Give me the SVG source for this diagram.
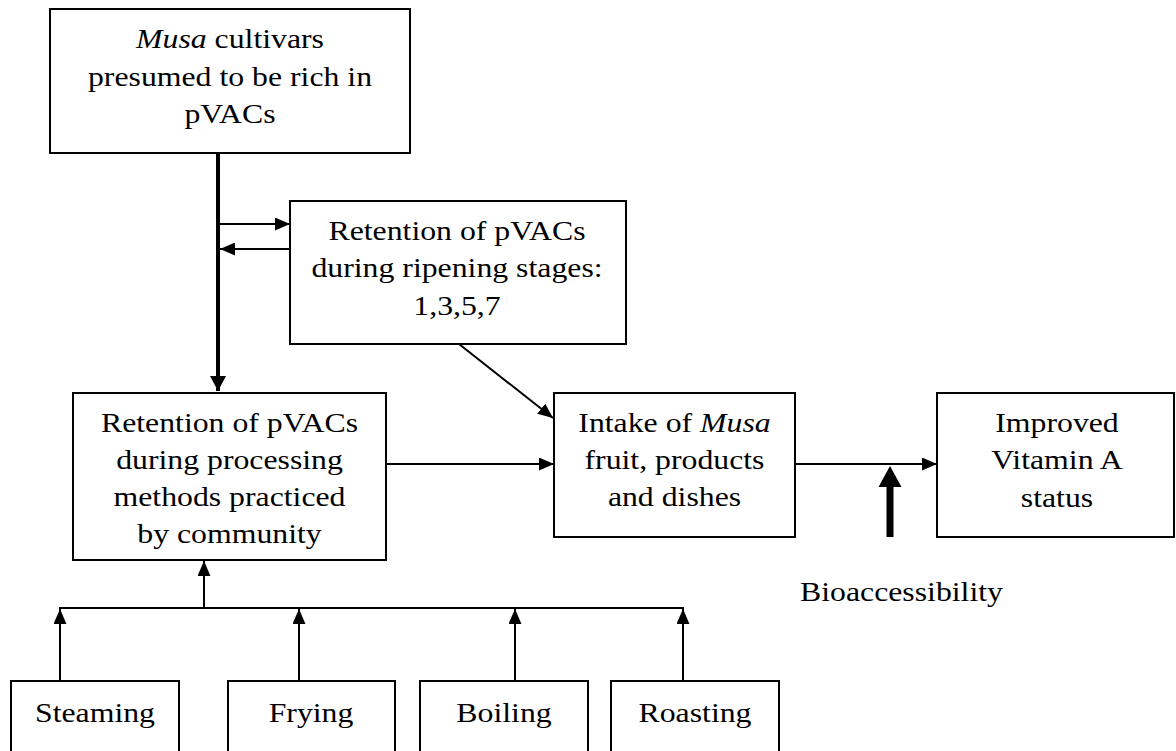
<svg xmlns="http://www.w3.org/2000/svg" width="1176" height="751" viewBox="0 0 1176 751">
<style>
.box{fill:#fff;stroke:#000;stroke-width:2}
.t{font-family:"Liberation Serif","Times New Roman",serif;font-size:28px;fill:#000;text-anchor:middle}
.i{font-style:italic}
.ln{fill:none;stroke:#000;stroke-width:2}
.thick{fill:none;stroke:#000;stroke-width:4}
</style>
<defs>
<marker id="ah" markerUnits="userSpaceOnUse" markerWidth="15" markerHeight="13" refX="15" refY="6.5" orient="auto">
<path d="M0,0 L15,6.5 L0,13 z" fill="#000"/>
</marker>
<marker id="ahb" markerUnits="userSpaceOnUse" markerWidth="15" markerHeight="16" refX="15" refY="8" orient="auto">
<path d="M0,0 L15,8 L0,16 z" fill="#000"/>
</marker>
</defs>
<rect width="1176" height="751" fill="#fff"/>
<g id="connectors">
<line class="thick" x1="218" y1="153" x2="218" y2="391" marker-end="url(#ahb)"/>
<line class="ln" x1="218" y1="224" x2="290" y2="224" marker-end="url(#ah)"/>
<line class="ln" x1="290" y1="249" x2="220" y2="249" marker-end="url(#ah)"/>
<line class="ln" x1="459" y1="344" x2="553" y2="418" marker-end="url(#ah)"/>
<line class="ln" x1="386" y1="464" x2="554" y2="464" marker-end="url(#ah)"/>
<line class="ln" x1="795" y1="464" x2="937" y2="464" marker-end="url(#ah)"/>
<polygon points="886.5,537 893.5,537 893.5,487 901.5,487 890,466 878.5,487 886.5,487" fill="#000"/>
<line class="ln" x1="204" y1="608" x2="204" y2="561" marker-end="url(#ah)"/>
<line class="ln" x1="59" y1="608" x2="684" y2="608"/>
<line class="ln" x1="60" y1="681" x2="60" y2="609" marker-end="url(#ah)"/>
<line class="ln" x1="299" y1="681" x2="299" y2="609" marker-end="url(#ah)"/>
<line class="ln" x1="515" y1="681" x2="515" y2="609" marker-end="url(#ah)"/>
<line class="ln" x1="683" y1="681" x2="683" y2="609" marker-end="url(#ah)"/>
</g>
<g id="musa-cultivars">
<rect class="box" x="50" y="9" width="360" height="144"/>
<text class="t" transform="translate(230 0) scale(1.135 1)" y="48"><tspan class="i">Musa</tspan> cultivars</text>
<text class="t" transform="translate(230 0) scale(1.135 1)" y="86">presumed to be rich in</text>
<text class="t" transform="translate(230 0) scale(1.135 1)" y="123">pVACs</text>
</g>
<g id="ripening">
<rect class="box" x="290" y="201" width="336" height="143"/>
<text class="t" transform="translate(457 0) scale(1.135 1)" y="240">Retention of pVACs</text>
<text class="t" transform="translate(457 0) scale(1.135 1)" y="277">during ripening stages:</text>
<text class="t" transform="translate(457 0) scale(1.135 1)" y="315">1,3,5,7</text>
</g>
<g id="processing">
<rect class="box" x="73" y="393" width="313" height="167"/>
<text class="t" transform="translate(229.5 0) scale(1.135 1)" y="432">Retention of pVACs</text>
<text class="t" transform="translate(229.5 0) scale(1.135 1)" y="469">during processing</text>
<text class="t" transform="translate(229.5 0) scale(1.135 1)" y="506">methods practiced</text>
<text class="t" transform="translate(229.5 0) scale(1.135 1)" y="543">by community</text>
</g>
<g id="intake">
<rect class="box" x="554" y="393" width="241" height="144"/>
<text class="t" transform="translate(674.5 0) scale(1.135 1)" y="432">Intake of <tspan class="i">Musa</tspan></text>
<text class="t" transform="translate(674.5 0) scale(1.135 1)" y="469">fruit, products</text>
<text class="t" transform="translate(674.5 0) scale(1.135 1)" y="506">and dishes</text>
</g>
<g id="improved">
<rect class="box" x="937" y="393" width="237" height="144"/>
<text class="t" transform="translate(1057 0) scale(1.135 1)" y="432">Improved</text>
<text class="t" transform="translate(1057 0) scale(1.135 1)" y="469">Vitamin A</text>
<text class="t" transform="translate(1057 0) scale(1.135 1)" y="507">status</text>
</g>
<g id="bioaccessibility">
<text class="t" transform="translate(901.5 0) scale(1.135 1)" y="601">Bioaccessibility</text>
</g>
<g id="steaming">
<rect class="box" x="11" y="681" width="168" height="90"/>
<text class="t" transform="translate(95 0) scale(1.135 1)" y="722">Steaming</text>
</g>
<g id="frying">
<rect class="box" x="228" y="681" width="167" height="90"/>
<text class="t" transform="translate(311 0) scale(1.135 1)" y="722">Frying</text>
</g>
<g id="boiling">
<rect class="box" x="420" y="681" width="168" height="90"/>
<text class="t" transform="translate(504 0) scale(1.135 1)" y="722">Boiling</text>
</g>
<g id="roasting">
<rect class="box" x="611" y="681" width="168" height="90"/>
<text class="t" transform="translate(695 0) scale(1.135 1)" y="722">Roasting</text>
</g>
</svg>
